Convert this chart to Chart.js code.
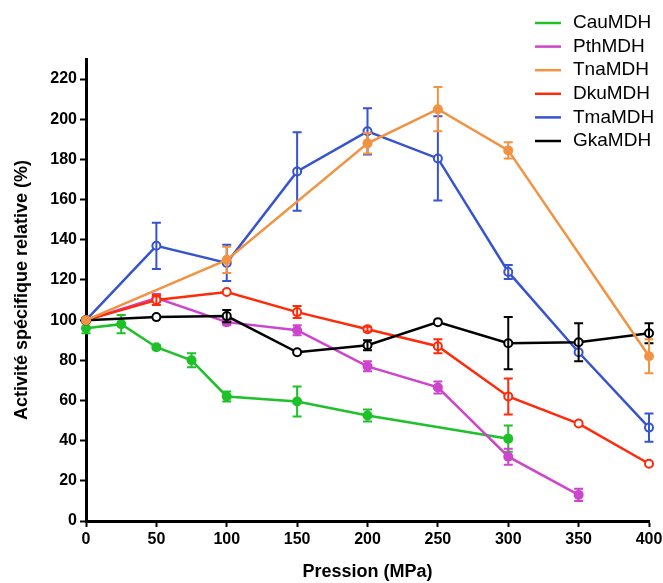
<!DOCTYPE html>
<html lang="fr">
  <head>
    <meta charset="UTF-8" />
    <script src="https://cdn.jsdelivr.net/npm/chart.js@4.4.0/dist/chart.umd.min.js"></script>
    <title>Activité spécifique relative en fonction de la pression</title>
    <style>
      body {
        margin: 0;
        padding: 0;
        background: white;
      }
      .container {
        width: 663px;
        height: 583px;
      }
    </style>
  </head>
  <body>
    <div class="container">
      <canvas id="chartMDH"></canvas>
    </div>
    <script>
      // pressions (MPa)
      const cauX = [0, 25, 50, 75, 100, 150, 200, 300]
      const cauY = [96, 98, 86.5, 80, 62, 59.5, 52.5, 41]
      const cauSd = [2.5, 4.5, 1, 3.5, 2.5, 7.5, 3, 6.5]

      const pthX = [0, 50, 100, 150, 200, 250, 300, 350]
      const pthY = [100, 111, 99, 95, 77, 66.5, 32, 13]
      const pthSd = [0, 2, 1.5, 2.5, 2.5, 3, 4, 3]

      const tnaX = [0, 100, 200, 250, 300, 400]
      const tnaY = [100, 130, 188, 205, 184.5, 82]
      const tnaSd = [0, 6.5, 5, 11, 4, 8.5]

      const dkuX = [0, 50, 100, 150, 200, 250, 300, 350, 400]
      const dkuY = [100, 110, 114, 104, 95.5, 87, 62, 48.5, 28.5]
      const dkuSd = [0, 2.5, 0, 3, 1.2, 3.5, 9, 0, 0]

      const tmaX = [0, 50, 100, 150, 200, 250, 300, 350, 400]
      const tmaY = [100, 137, 128.5, 174, 194, 180.5, 124, 84, 46.5]
      const tmaSd = [0, 11.5, 9, 19.5, 11.5, 21, 3.5, 0, 7]

      const gkaX = [0, 50, 100, 150, 200, 250, 300, 350, 400]
      const gkaY = [100, 101.5, 102, 84, 87.5, 99, 88.5, 89, 93.5]
      const gkaSd = [0, 0, 3, 0, 2.5, 0, 13, 9.5, 5]

      const xTicksStep = 50
      const yTicksStep = 20

      const font = '"Liberation Sans", Arial, sans-serif'

      // z: ordre de dessin (0 = au-dessus)
      const series = [
        { label: 'CauMDH', x: cauX, y: cauY, sd: cauSd, color: '#1fc12a', open: false, z: 5 },
        { label: 'PthMDH', x: pthX, y: pthY, sd: pthSd, color: '#cc45cc', open: false, z: 4 },
        { label: 'TnaMDH', x: tnaX, y: tnaY, sd: tnaSd, color: '#f29343', open: false, z: 0 },
        { label: 'DkuMDH', x: dkuX, y: dkuY, sd: dkuSd, color: '#ff2a0a', open: true, z: 3 },
        { label: 'TmaMDH', x: tmaX, y: tmaY, sd: tmaSd, color: '#3653d0', open: true, z: 2 },
        { label: 'GkaMDH', x: gkaX, y: gkaY, sd: gkaSd, color: '#000000', open: true, z: 1 },
      ]

      // barres d'erreur (écart-type), dessinées avec chaque série
      const errorBars = {
        id: 'errorBars',
        afterDatasetDraw(chart, args) {
          const s = series[args.index]
          const yScale = chart.scales.y
          const ctx = chart.ctx
          ctx.save()
          ctx.strokeStyle = s.color
          ctx.lineWidth = 2
          args.meta.data.forEach((pt, i) => {
            const sd = s.sd[i]
            if (!sd) return
            const top = yScale.getPixelForValue(s.y[i] + sd)
            const bot = yScale.getPixelForValue(s.y[i] - sd)
            ctx.beginPath()
            ctx.moveTo(pt.x, top)
            ctx.lineTo(pt.x, bot)
            ctx.moveTo(pt.x - 4.5, top)
            ctx.lineTo(pt.x + 4.5, top)
            ctx.moveTo(pt.x - 4.5, bot)
            ctx.lineTo(pt.x + 4.5, bot)
            ctx.stroke()
          })
          ctx.restore()
        },
      }

      // légende en haut à droite, traits seulement
      const sideLegend = {
        id: 'sideLegend',
        afterDraw(chart) {
          const ctx = chart.ctx
          ctx.save()
          ctx.font = '19px ' + font
          ctx.textBaseline = 'middle'
          series.forEach((s, i) => {
            const y = 23 + i * 23.6
            ctx.strokeStyle = s.color
            ctx.lineWidth = 2.5
            ctx.beginPath()
            ctx.moveTo(535, y)
            ctx.lineTo(561, y)
            ctx.stroke()
            ctx.fillStyle = '#000'
            ctx.fillText(s.label, 573, y)
          })
          ctx.restore()
        },
      }

      Chart.defaults.color = '#000'

      new Chart(document.getElementById('chartMDH'), {
        type: 'line',
        data: {
          datasets: series.map((s) => ({
            label: s.label,
            data: s.x.map((x, j) => ({ x: x, y: s.y[j] })),
            borderColor: s.color,
            backgroundColor: s.color,
            borderWidth: 2.5,
            pointRadius: s.open ? 4 : 5,
            pointBorderWidth: s.open ? 2 : 0,
            pointBackgroundColor: s.open ? '#fff' : s.color,
            pointBorderColor: s.color,
            tension: 0,
            clip: false,
            order: s.z,
          })),
        },
        options: {
          responsive: true,
          maintainAspectRatio: false,
          animation: false,
          layout: {
            padding: { left: 0, top: 59, right: 14, bottom: 0 },
          },
          plugins: {
            legend: { display: false },
            tooltip: { enabled: false },
          },
          scales: {
            x: {
              type: 'linear',
              min: 0,
              max: 400,
              ticks: {
                stepSize: xTicksStep,
                padding: 3,
                font: { family: font, size: 16, weight: 'bold' },
              },
              grid: {
                drawOnChartArea: false,
                tickLength: 6,
                tickColor: '#000',
                tickWidth: 2,
              },
              border: { color: '#000', width: 3 },
              title: {
                display: true,
                text: 'Pression (MPa)',
                font: { family: font, size: 18, weight: 'bold' },
                padding: { top: 0, bottom: 0 },
              },
              afterFit(scale) {
                scale.height = 62
                scale.paddingLeft = 0
                scale.paddingRight = 0
              },
            },
            y: {
              min: 0,
              max: 230,
              ticks: {
                stepSize: yTicksStep,
                includeBounds: false,
                padding: 3,
                font: { family: font, size: 16, weight: 'bold' },
              },
              grid: {
                drawOnChartArea: false,
                tickLength: 6,
                tickColor: '#000',
                tickWidth: 2,
              },
              border: { color: '#000', width: 3 },
              title: {
                display: true,
                text: 'Activité spécifique relative (%)',
                font: { family: font, size: 18, weight: 'bold' },
                padding: { top: 11, bottom: 0 },
              },
              afterFit(scale) {
                scale.width = 86
                scale.paddingTop = 0
                scale.paddingBottom = 0
              },
            },
          },
        },
        plugins: [errorBars, sideLegend],
      })
    </script>
  </body>
</html>
